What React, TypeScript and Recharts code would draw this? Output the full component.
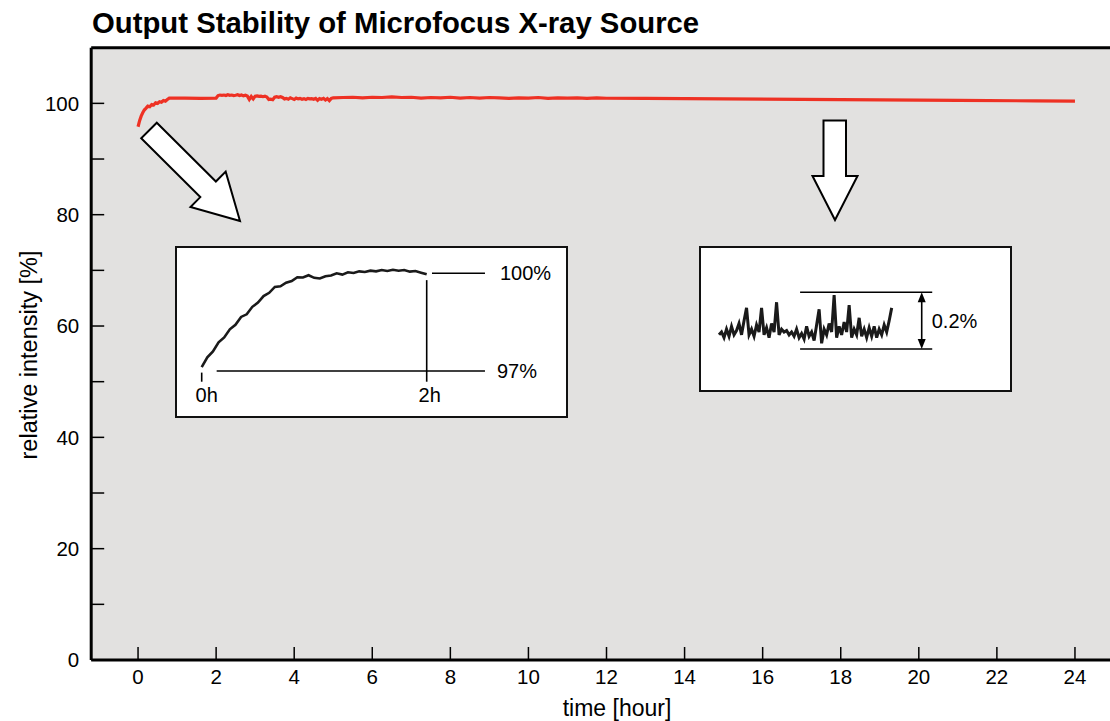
import React from 'react';
import { LineChart, Line, XAxis, YAxis, CartesianGrid, ReferenceLine } from 'recharts';

const FONT = '"Liberation Sans", Arial, Helvetica, sans-serif';

// 24 h run, relative intensity [%]
const mainHours = [
  0, 0.04, 0.08, 0.12, 0.16, 0.2, 0.25, 0.3, 0.35, 0.4, 0.45, 0.5, 0.55, 0.6, 0.65, 0.7, 0.75, 0.8, 1.2, 1.6, 2.0,
  2.05, 2.1, 2.15, 2.2, 2.25, 2.3, 2.35, 2.4, 2.45, 2.5, 2.55, 2.6, 2.65, 2.7, 2.75, 2.8, 2.85, 2.9, 2.95, 3.0,
  3.05, 3.1, 3.15, 3.2, 3.25, 3.3, 3.35, 3.4, 3.45, 3.5, 3.55, 3.6, 3.65, 3.7, 3.75, 3.8, 3.85, 3.9, 3.95, 4.0,
  4.05, 4.1, 4.15, 4.2, 4.25, 4.3, 4.35, 4.4, 4.45, 4.5, 4.55, 4.6, 4.65, 4.7, 4.75, 4.8, 4.85, 4.9, 4.95, 5.0,
  5.25, 5.5, 5.75, 6.0, 6.25, 6.5, 6.75, 7.0, 7.25, 7.5, 7.75, 8.0, 8.25, 8.5, 8.75, 9.0, 9.25, 9.5, 9.75, 10.0,
  10.25, 10.5, 10.75, 11.0, 11.25, 11.5, 11.75, 12.0,
  13, 15, 17, 19, 21, 23, 24,
];
const mainIntensity = [
  95.8, 96.9, 97.7, 98.3, 98.8, 99.1, 99.5, 99.4, 99.8, 99.7, 100.1, 100.0, 100.3, 100.2, 100.5, 100.4, 100.7, 100.95, 100.95, 100.9, 100.95,
  101.4, 101.5, 101.45, 101.5, 101.4, 101.55, 101.45, 101.5, 101.4, 101.45, 101.55, 101.4, 101.5, 101.35, 101.45, 101.3, 100.7, 101.25, 100.8, 101.3,
  101.35, 101.25, 101.3, 101.2, 101.3, 101.15, 100.7, 100.75, 100.65, 101.1, 101.2, 101.1, 101.2, 101.05, 100.8, 100.9, 100.75, 101.0, 100.85, 100.7,
  100.95, 100.8, 100.9, 100.75, 100.85, 100.7, 100.9, 100.8, 100.85, 100.75, 100.9, 100.55, 100.85, 100.75, 100.9, 100.6, 100.85, 100.5, 100.9, 101.0,
  101.05, 101.1, 101.0, 101.1, 101.05, 101.15, 101.05, 101.1, 100.95, 101.05, 101.0, 101.1, 100.95, 101.05, 100.95, 101.05, 101.0, 100.9, 101.0, 100.95,
  101.05, 100.9, 101.0, 100.95, 101.0, 100.9, 100.98, 100.92,
  100.88, 100.8, 100.72, 100.62, 100.53, 100.45, 100.42,
];
const xTicks = [0, 2, 4, 6, 8, 10, 12, 14, 16, 18, 20, 22, 24];
const yTicks = [0, 10, 20, 30, 40, 50, 60, 70, 80, 90, 100];

// warm-up inset: first 2 hours
const warmupHours = [
  0, 0.05, 0.1, 0.15, 0.2, 0.25, 0.3, 0.35, 0.4, 0.45, 0.5, 0.55, 0.6, 0.65, 0.7, 0.75, 0.8, 0.85, 0.9, 0.95, 1.0,
  1.05, 1.1, 1.15, 1.2, 1.25, 1.3, 1.35, 1.4, 1.45, 1.5, 1.55, 1.6, 1.65, 1.7, 1.75, 1.8, 1.85, 1.9, 1.95, 2.0,
];
const warmupLevel = [
  97.12, 97.42, 97.6, 97.88, 98.03, 98.28, 98.42, 98.66, 98.74, 98.97, 99.1, 99.3, 99.4, 99.58, 99.6, 99.71, 99.76, 99.88, 99.87, 99.94, 99.86,
  99.84, 99.91, 99.93, 100.0, 99.96, 100.03, 100.01, 100.06, 100.04, 100.08, 100.06, 100.1, 100.07, 100.11, 100.08, 100.1, 100.05, 100.07, 100.02, 99.97,
];

// stability inset: deviation [%], 0.2 % band
const noiseIndex = [
  0, 1, 2, 3, 4, 5, 6, 7, 8, 9, 10, 11, 12, 13, 14, 15, 16, 17, 18, 19, 20, 21, 22, 23, 24, 25, 26, 27, 28, 29, 30, 31, 32, 33, 34,
  35, 36, 37, 38, 39, 40, 41, 42, 43, 44, 45, 46, 47, 48, 49, 50, 51, 52, 53, 54, 55, 56, 57, 58, 59, 60, 61, 62, 63, 64, 65, 66, 67, 68, 69,
];
const noiseLevel = [
  0.05, 0.06, 0.04, 0.07, 0.045, 0.08, 0.05, 0.065, 0.09, 0.05, 0.1, 0.145, 0.05, 0.07, 0.045, 0.085, 0.06, 0.145, 0.05, 0.075,
  0.04, 0.09, 0.06, 0.165, 0.05, 0.07, 0.06, 0.065, 0.05, 0.06, 0.045, 0.07, 0.04, 0.055, 0.035, 0.08, 0.045, 0.06, 0.03, 0.085,
  0.14, 0.02, 0.07, 0.05, 0.09, 0.06, 0.19, 0.04, 0.08, 0.05, 0.095, 0.06, 0.155, 0.04, 0.07, 0.05, 0.11, 0.045, 0.07, 0.04,
  0.075, 0.045, 0.08, 0.04, 0.07, 0.05, 0.085, 0.06, 0.1, 0.145,
];

const mainData = mainHours.map((h, i) => ({ hour: h, intensity: mainIntensity[i] }));
const warmupData = warmupHours.map((h, i) => ({ h, level: warmupLevel[i] }));
const noiseData = noiseIndex.map((t, i) => ({ t, dev: noiseLevel[i] }));

const DoubleArrow = (props: any) => {
  const { x1, y1, y2 } = props;
  const top = Math.min(y1, y2);
  const bottom = Math.max(y1, y2);
  return (
    <g>
      <line x1={x1} y1={top + 8} x2={x1} y2={bottom - 8} stroke="#000" strokeWidth={1.6} />
      <polygon points={`${x1},${top} ${x1 - 4},${top + 10} ${x1 + 4},${top + 10}`} fill="#000" />
      <polygon points={`${x1},${bottom} ${x1 - 4},${bottom - 10} ${x1 + 4},${bottom - 10}`} fill="#000" />
    </g>
  );
};

const labelStyle = { fontSize: 20, fill: '#000', fontFamily: FONT };

const insetBox: React.CSSProperties = {
  position: 'absolute',
  boxSizing: 'border-box',
  border: '2px solid #111',
  background: '#fff',
};

const App: React.FC = () => {
  return (
    <div
      style={{
        position: 'absolute',
        left: 0,
        top: 0,
        width: 1110,
        height: 721,
        overflow: 'hidden',
        background: '#fff',
        fontFamily: FONT,
      }}
    >
      <div style={{ position: 'absolute', left: 0, top: 0 }}>
        <LineChart
          width={1120}
          height={721}
          data={mainData}
          margin={{ top: 47.7, right: 6, left: 90.2, bottom: 60 }}
        >
          <CartesianGrid fill="#e2e1e0" stroke="none" horizontal={false} vertical={false} />
          <XAxis
            dataKey="hour"
            type="number"
            domain={[-1.2, 25]}
            ticks={xTicks}
            interval={0}
            height={1}
            tickSize={-13}
            tickMargin={22}
            axisLine={{ stroke: '#000', strokeWidth: 3 }}
            tickLine={{ stroke: '#000', strokeWidth: 1.5 }}
            tick={{ fontSize: 20.5, fill: '#000', fontFamily: FONT }}
          />
          <YAxis
            type="number"
            domain={[0, 110]}
            ticks={yTicks}
            interval={0}
            width={1}
            tickSize={-13}
            tickMargin={25}
            tickFormatter={(v: number) => (v % 20 === 0 ? String(v) : '')}
            axisLine={{ stroke: '#000', strokeWidth: 3 }}
            tickLine={{ stroke: '#000', strokeWidth: 1.5 }}
            tick={{ fontSize: 20.5, fill: '#000', fontFamily: FONT }}
          />
          <ReferenceLine y={110} stroke="#000" strokeWidth={3} />
          <Line
            type="linear"
            dataKey="intensity"
            stroke="#ee3124"
            strokeWidth={3.2}
            dot={false}
            isAnimationActive={false}
          />
        </LineChart>
      </div>

      <svg
        width={1110}
        height={721}
        style={{ position: 'absolute', left: 0, top: 0 }}
        fontFamily={FONT}
      >
        <text x={92} y={33} fontSize={29.3} fontWeight="bold" fill="#000">
          Output Stability of Microfocus X-ray Source
        </text>
        <text transform="translate(37,355) rotate(-90)" textAnchor="middle" fontSize={23.5} fill="#000">
          relative intensity [%]
        </text>
        <text x={617} y={716} textAnchor="middle" fontSize={23} fill="#000">
          time [hour]
        </text>
        <polygon
          points="156.8,122.7 215.9,181.5 225.7,171.6 240,221 190.5,207 200.3,197.1 141.2,138.3"
          fill="#fff"
          stroke="#000"
          strokeWidth={2}
          strokeLinejoin="miter"
        />
        <polygon
          points="823.5,120.5 846,120.5 846,176 857.5,176 835,220 812.5,176 823.5,176"
          fill="#fff"
          stroke="#000"
          strokeWidth={2}
        />
      </svg>

      {/* warm-up inset */}
      <div style={{ ...insetBox, left: 175, top: 246, width: 393, height: 172 }}>
        <LineChart
          width={389}
          height={168}
          data={warmupData}
          margin={{ top: 2.5, right: 4.3, left: 2.2, bottom: 2.7 }}
        >
          <XAxis dataKey="h" type="number" domain={[-0.2, 3.2]} hide />
          <YAxis type="number" domain={[95.7, 100.7]} hide />
          <ReferenceLine
            segment={[{ x: 2.047, y: 100 }, { x: 2.518, y: 100 }]}
            stroke="#000"
            strokeWidth={1.6}
            label={{ value: '100%', position: 'right', offset: 15, ...labelStyle }}
          />
          <ReferenceLine
            segment={[{ x: 0.133, y: 97 }, { x: 2.518, y: 97 }]}
            stroke="#000"
            strokeWidth={1.6}
            label={{ value: '97%', position: 'right', offset: 12, ...labelStyle }}
          />
          <ReferenceLine
            segment={[{ x: 2, y: 99.79 }, { x: 2, y: 96.67 }]}
            stroke="#000"
            strokeWidth={1.6}
            label={{ value: '2h', position: 'bottom', offset: 6, dx: 3, ...labelStyle }}
          />
          <ReferenceLine
            segment={[{ x: 0, y: 96.95 }, { x: 0, y: 96.67 }]}
            stroke="#000"
            strokeWidth={1.6}
            label={{ value: '0h', position: 'bottom', offset: 6, dx: 5, ...labelStyle }}
          />
          <Line
            type="linear"
            dataKey="level"
            stroke="#1a1a1a"
            strokeWidth={2.6}
            dot={false}
            isAnimationActive={false}
          />
        </LineChart>
      </div>

      {/* long-term stability inset */}
      <div style={{ ...insetBox, left: 699, top: 246, width: 313, height: 146 }}>
        <LineChart
          width={309}
          height={142}
          data={noiseData}
          margin={{ top: 1.8, right: 0.7, left: 0.5, bottom: 1.3 }}
        >
          <XAxis dataKey="t" type="number" domain={[-7, 116]} hide />
          <YAxis type="number" domain={[-0.14, 0.35]} hide />
          <ReferenceLine
            segment={[{ x: 32.4, y: 0.2 }, { x: 85.2, y: 0.2 }]}
            stroke="#000"
            strokeWidth={1.6}
          />
          <ReferenceLine
            segment={[{ x: 32.4, y: 0 }, { x: 85.2, y: 0 }]}
            stroke="#000"
            strokeWidth={1.6}
          />
          <ReferenceLine
            segment={[{ x: 81, y: 0 }, { x: 81, y: 0.2 }]}
            shape={DoubleArrow}
            label={{ value: '0.2%', position: 'right', offset: 10, ...labelStyle }}
          />
          <Line
            type="linear"
            dataKey="dev"
            stroke="#1a1a1a"
            strokeWidth={3}
            dot={false}
            isAnimationActive={false}
          />
        </LineChart>
      </div>
    </div>
  );
};

export default App;
